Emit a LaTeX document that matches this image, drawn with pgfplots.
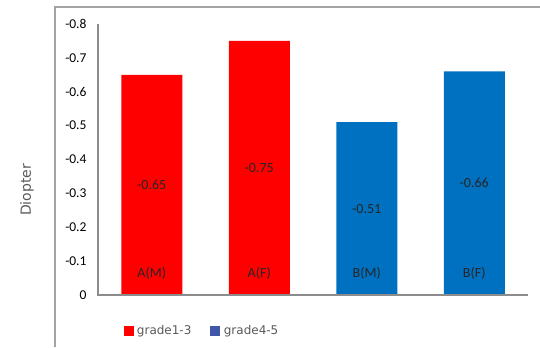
\documentclass[border=0pt]{standalone}
\usepackage{pgfplots}
\pgfplotsset{compat=1.18}
\usetikzlibrary{calc}
\usepackage{fontspec}
\setmainfont{Carlito}
\newfontfamily\dejavu{DejaVu Sans}
\definecolor{barred}{HTML}{FF0000}
\definecolor{barblue}{HTML}{0070C0}
\definecolor{legblue}{HTML}{3F57A6}
\definecolor{axgray}{HTML}{8C8C8C}
\definecolor{txtgray}{HTML}{595959}
\begin{document}
\begin{tikzpicture}
\begin{axis}[
  width=430bp, height=271bp, scale only axis,
  xmin=-0.5, xmax=3.5, ymin=-0.8, ymax=0,
  y dir=reverse,
  ybar, bar width=61bp,
  xtick=\empty,
  ytick={-0.8,-0.7,-0.6,-0.5,-0.4,-0.3,-0.2,-0.1,0},
  yticklabel style={/pgf/number format/fixed, /pgf/number format/precision=1, font=\fontsize{13.5bp}{15bp}\selectfont, xshift=-8bp},
  /pgf/number format/assume math mode=true,
  major tick length=0pt,
  axis line style={draw=none},
  clip=false,
  legend style={at={(axis cs:0.467,0.106)}, anchor=center, legend columns=2, draw=none, fill=none,
    font=\dejavu\fontsize{12bp}{14bp}\selectfont, text=txtgray,
    /tikz/every even column/.append style={column sep=17bp},
    /tikz/every odd column/.append style={column sep=2bp}},
]
\addplot[fill=barred, draw=none, bar shift=0pt, forget plot] coordinates {(0,-0.65) (1,-0.75)};
\addplot[fill=barblue, draw=none, bar shift=0pt, forget plot] coordinates {(2,-0.51) (3,-0.66)};
\addlegendimage{legend image code/.code={\fill[barred] (0bp,-4.5bp) rectangle (9bp,4.5bp);}}
\addlegendentry{grade1-3}
\addlegendimage{legend image code/.code={\fill[legblue] (0bp,-4.5bp) rectangle (9bp,4.5bp);}}
\addlegendentry{grade4-5}
\coordinate (O) at (axis cs:-0.5,0);
\draw[axgray, line width=2bp] (axis cs:-0.5,-0.8) -- (axis cs:-0.5,0) -- (axis cs:3.5,0);
\begin{scope}[every node/.style={font=\fontsize{14bp}{16bp}\selectfont, text=black!85}]
\node at (axis cs:0,-0.325) {-0.65};
\node at (axis cs:1,-0.375) {-0.75};
\node at (axis cs:2,-0.255) {-0.51};
\node at (axis cs:3,-0.33) {-0.66};
\node at (axis cs:0,-0.064) {A(M)};
\node at (axis cs:1,-0.064) {A(F)};
\node at (axis cs:2,-0.064) {B(M)};
\node at (axis cs:3,-0.064) {B(F)};
\end{scope}
\end{axis}
\begin{scope}[shift={($(O)+(-98bp,-52bp)$)}, x=1bp, y=1bp]
\path[use as bounding box] (0,0) rectangle (540,347);
\draw[axgray!80, line width=1.6bp] (55,0) -- (55,340) -- (540,340);
\node[rotate=90, font=\dejavu\fontsize{14bp}{16bp}\selectfont, text=txtgray] at (27,157) {Diopter};
\end{scope}
\end{tikzpicture}
\end{document}
